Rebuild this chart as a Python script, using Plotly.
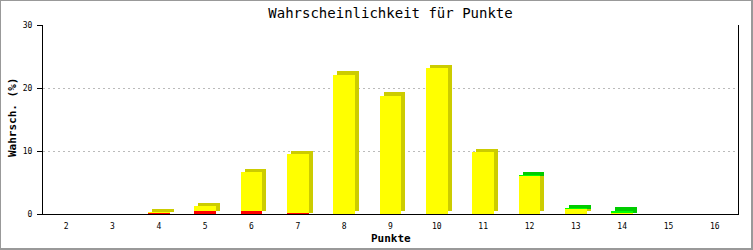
import plotly.graph_objects as go

categories = [2, 3, 4, 5, 6, 7, 8, 9, 10, 11, 12, 13, 14, 15, 16]
red_vals = [0, 0, 0.25, 0.45, 0.55, 0.1, 0, 0, 0, 0, 0, 0, 0, 0, 0]
yellow_vals = [0, 0, 0.05, 0.75, 6.05, 9.35, 22.1, 18.8, 23.1, 9.8, 6.1, 0.85, 0.15, 0, 0]
green_vals = [0, 0, 0, 0, 0, 0, 0, 0, 0, 0, 0.05, 0.05, 0.4, 0, 0]
y_ticks = [0, 10, 20, 30]

title = "Wahrscheinlichkeit für Punkte"
x_title = "Punkte"
y_title = "Wahrsch. (%)"

series = [
    (red_vals, "#FF0000", "#CC0000"),
    (yellow_vals, "#FFFF00", "#CCCC00"),
    (green_vals, "#00FF00", "#00CC00"),
]

W, H = 753, 250
ML, MR, MT, MB = 43, 15, 25, 36
plot_w = W - ML - MR
plot_h = H - MT - MB
ncat = len(categories)
px_per_cat = plot_w / ncat
px_per_unit = plot_h / 30.0

bar_w = 0.47
dx = 4 / px_per_cat
dy = 3.5 / px_per_unit

fig = go.Figure()
bottoms = [0.0] * ncat
for vals, front, dark in series:
    back_base = []
    back_h = []
    for i, v in enumerate(vals):
        if v > 0:
            b = bottoms[i] + (dy if bottoms[i] == 0 else 0)
            back_base.append(b)
            back_h.append(bottoms[i] + v + dy - b)
        else:
            back_base.append(0)
            back_h.append(0)
    fig.add_trace(go.Bar(x=categories, y=back_h, base=back_base, width=bar_w,
                         offset=-bar_w / 2 + dx, marker=dict(color=dark, line=dict(width=0)),
                         showlegend=False, hoverinfo="skip"))
    fig.add_trace(go.Bar(x=categories, y=vals, base=list(bottoms), width=bar_w,
                         offset=-bar_w / 2, marker=dict(color=front, line=dict(width=0)),
                         showlegend=False))
    bottoms = [b + v for b, v in zip(bottoms, vals)]

mono = "DejaVu Sans Mono"

fig.update_layout(
    width=W, height=H,
    margin=dict(l=ML, r=MR, t=MT, b=MB, pad=0),
    paper_bgcolor="white", plot_bgcolor="white",
    barmode="overlay",
    bargap=0,
    showlegend=False,
    title=dict(text=title, x=(ML + plot_w / 2) / W, xanchor="center",
               y=1 - 13 / H, yanchor="middle", yref="container",
               font=dict(family=mono, size=14, color="black")),
    font=dict(family=mono, color="black"),
)
fig.update_xaxes(
    range=[categories[0] - 0.5, categories[-1] + 0.5],
    tickmode="array", tickvals=categories, ticktext=[str(c) for c in categories],
    ticks="", showgrid=False, zeroline=False,
    showline=True, linecolor="black", linewidth=1, mirror=False,
    tickfont=dict(family=mono, size=8, color="black"),
    ticklabelstandoff=4,
)
fig.update_yaxes(
    range=[0, 30], tickmode="array", tickvals=y_ticks,
    ticks="outside", ticklen=5, tickcolor="black", tickwidth=1,
    showgrid=True, gridcolor="#BBBBBB", griddash="2px,3px", gridwidth=1,
    zeroline=False, showline=True, linecolor="black", linewidth=1, mirror=True,
    tickfont=dict(family=mono, size=8, color="black"),
    ticklabelstandoff=3,
)

fig.add_annotation(text=x_title, xref="paper", yref="paper",
                   x=0.5, y=-(238 - 214) / plot_h, xanchor="center", yanchor="middle",
                   showarrow=False, font=dict(family=mono, size=11, color="black", weight="bold"))
fig.add_annotation(text=y_title, xref="paper", yref="paper",
                   x=(12 - ML) / plot_w, y=(214 - 118) / plot_h, xanchor="center", yanchor="middle",
                   textangle=-90, showarrow=False,
                   font=dict(family=mono, size=11, color="black", weight="bold"))

fig.add_shape(type="rect", xref="paper", yref="paper",
              x0=(0 - ML) / plot_w, x1=(752 - ML) / plot_w,
              y0=(214 - 249) / plot_h, y1=(214 - 0) / plot_h,
              line=dict(color="#999999", width=2), fillcolor="rgba(0,0,0,0)", layer="above")

fig.write_html("out.html")
